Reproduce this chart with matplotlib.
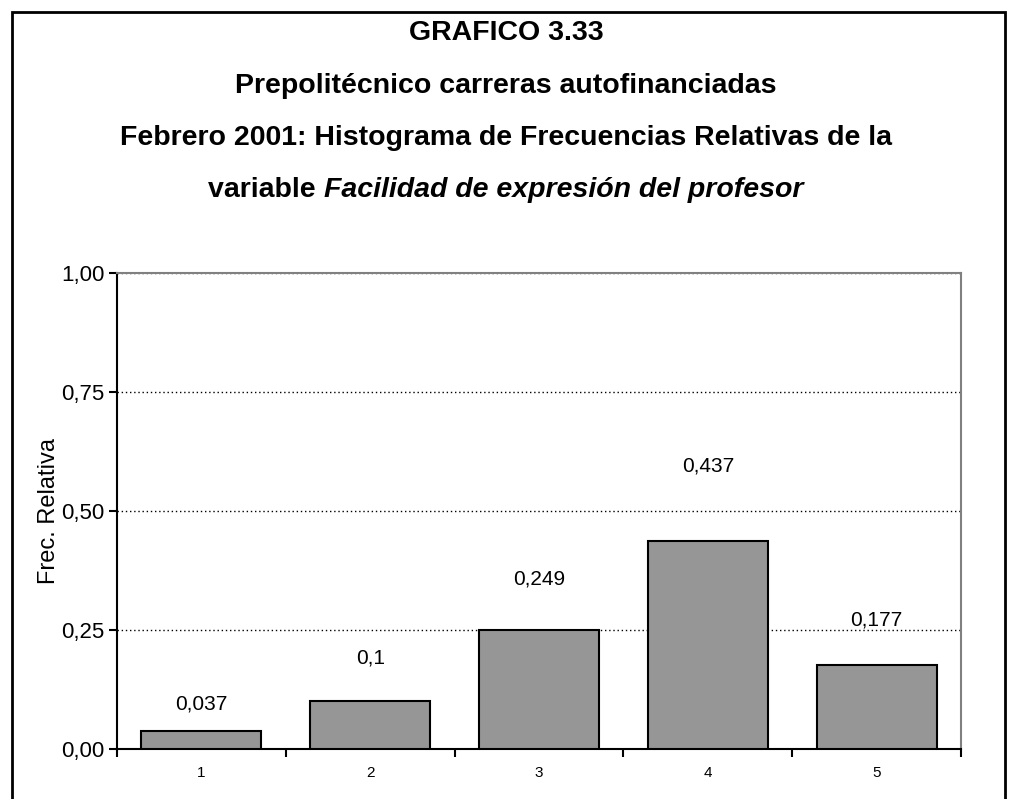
import matplotlib.pyplot as plt
from matplotlib.patches import Rectangle

# datos
categorias = [1, 2, 3, 4, 5]
frec_rel = [0.037, 0.1, 0.249, 0.437, 0.177]
etiquetas = ['0,037', '0,1', '0,249', '0,437', '0,177']
y_ticks = [0.0, 0.25, 0.5, 0.75, 1.0]
y_ticklabels = ['0,00', '0,25', '0,50', '0,75', '1,00']

# separacion de las etiquetas sobre cada barra (pt)
sep = [20, 31, 37, 54, 32]

plt.rcParams['font.family'] = ['Liberation Sans', 'DejaVu Sans']

fig = plt.figure(figsize=(10.12, 7.99), dpi=100)
ax = fig.add_axes([117/1012, 50/799, 844/1012, 476/799])

x = range(len(categorias))
barras = ax.bar(x, frec_rel, width=0.71, color='#969696', edgecolor='black',
                linewidth=1.5, zorder=3)

for b, t, s in zip(barras, etiquetas, sep):
    ax.annotate(t, (b.get_x() + b.get_width()/2, b.get_height()),
                xytext=(0, s), textcoords='offset points',
                ha='center', va='center', fontsize=15)

ax.set_xlim(-0.5, len(categorias) - 0.5)
ax.set_ylim(0, 1)
ax.set_yticks(y_ticks)
ax.set_yticklabels(y_ticklabels, fontsize=16)
ax.set_xticks([i + 0.5 for i in range(-1, len(categorias))])
ax.set_xticklabels([])
ax.set_xticks(list(x), minor=True)
ax.set_xticklabels([str(c) for c in categorias], minor=True, fontsize=11)
ax.tick_params(axis='x', which='minor', length=0, pad=12)
ax.tick_params(axis='x', which='major', direction='out', length=6, width=1.5)
ax.tick_params(axis='y', direction='out', length=6, width=1.5, pad=3)

ax.yaxis.grid(True, linestyle=(0, (1, 2)), color='black', linewidth=1, zorder=0)
ax.set_axisbelow(True)

for lado in ['top', 'right']:
    ax.spines[lado].set_color('#808080')
    ax.spines[lado].set_linewidth(1.5)
for lado in ['left', 'bottom']:
    ax.spines[lado].set_color('black')
    ax.spines[lado].set_linewidth(1.5)

ax.set_ylabel('Frec. Relativa', fontsize=17, labelpad=1)

# titulo
lineas = ['GRAFICO 3.33',
          'Prepolitécnico carreras autofinanciadas',
          'Febrero 2001: Histograma de Frecuencias Relativas de la']
ys = [33, 86, 138]
for t, yy in zip(lineas, ys):
    fig.text(0.5, 1 - yy/799, t, ha='center', va='center', fontsize=20.5,
             fontweight='bold')

# ultima linea: parte normal + parte cursiva
y4 = 1 - 190/799
t1 = fig.text(0, y4, 'variable ', ha='left', va='center', fontsize=20.5,
              fontweight='bold')
t2 = fig.text(0, y4, 'Facilidad de expresión del profesor', ha='left',
              va='center', fontsize=20.5, fontweight='bold', fontstyle='italic')
r = fig.canvas.get_renderer()
w1 = t1.get_window_extent(r).width / fig.bbox.width
w2 = t2.get_window_extent(r).width / fig.bbox.width
x0 = 0.5 - (w1 + w2) / 2
t1.set_x(x0)
t2.set_x(x0 + w1)

fig.patches.append(Rectangle((12/1012, -0.02), 993/1012, 1.02 - 12/799,
                             transform=fig.transFigure, fill=False,
                             edgecolor='black', linewidth=2))

fig.savefig('out.png', dpi=100)
